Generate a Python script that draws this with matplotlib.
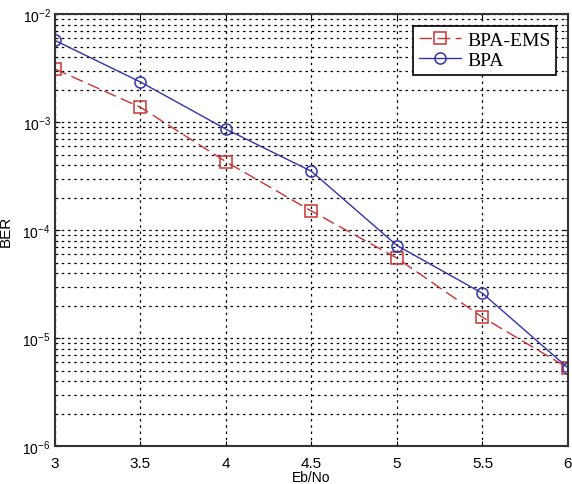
import numpy as np
import matplotlib
matplotlib.use('Agg')
import matplotlib.pyplot as plt

plt.rcParams['font.family'] = ['Liberation Sans', 'DejaVu Sans']

ebno = [3, 3.5, 4, 4.5, 5, 5.5, 6]
ber_ems = [3.1e-3, 1.37e-3, 4.3e-4, 1.5e-4, 5.5e-5, 1.56e-5, 5.3e-6]
ber_bpa = [5.7e-3, 2.35e-3, 8.6e-4, 3.5e-4, 7.2e-5, 2.6e-5, 5.3e-6]

fig = plt.figure(figsize=(5.72, 4.85), dpi=100)
ax = fig.add_axes([0.096, 0.078, 0.897, 0.891])

ax.semilogy(ebno, ber_ems, color='#cc3333', linestyle=(0, (9, 4)), lw=1.0,
            marker='s', markersize=8, markerfacecolor='none', markeredgewidth=1.1,
            label='BPA-EMS')
ax.semilogy(ebno, ber_bpa, color='#3333aa', linestyle='-', lw=1.0,
            marker='o', markersize=8, markerfacecolor='none', markeredgewidth=1.1,
            label='BPA')

ax.set_xlim(3, 6)
ax.set_ylim(1e-6, 1e-2)
ax.set_xticks([3, 3.5, 4, 4.5, 5, 5.5, 6])
ax.set_xticklabels(['3', '3.5', '4', '4.5', '5', '5.5', '6'])
ax.grid(True, which='major', color='black', linestyle=(0, (2, 3)), lw=0.9)
ax.grid(True, which='minor', axis='y', color='black', linestyle=(0, (2, 3)), lw=0.9)
ax.tick_params(which='both', direction='in', top=True, right=True)
ax.tick_params(axis='y', labelsize=10, pad=3)
ax.tick_params(axis='x', labelsize=11, pad=7)
for s in ax.spines.values():
    s.set_linewidth(1.5)
    s.set_color('#333333')

ax.set_ylabel('BER', fontsize=11)
ax.yaxis.set_label_coords(-0.082, 0.5)
ax.set_xlabel('Eb/No', fontsize=10, labelpad=0)

leg = ax.legend(loc='upper right', prop={'family': 'Liberation Serif', 'size': 14},
                fancybox=False, framealpha=1, edgecolor='black',
                handlelength=2.2, borderpad=0.3, labelspacing=0.1, handletextpad=0.3,
                borderaxespad=0.6)
leg.get_frame().set_linewidth(1.2)

fig.savefig('out.png', dpi=100)
